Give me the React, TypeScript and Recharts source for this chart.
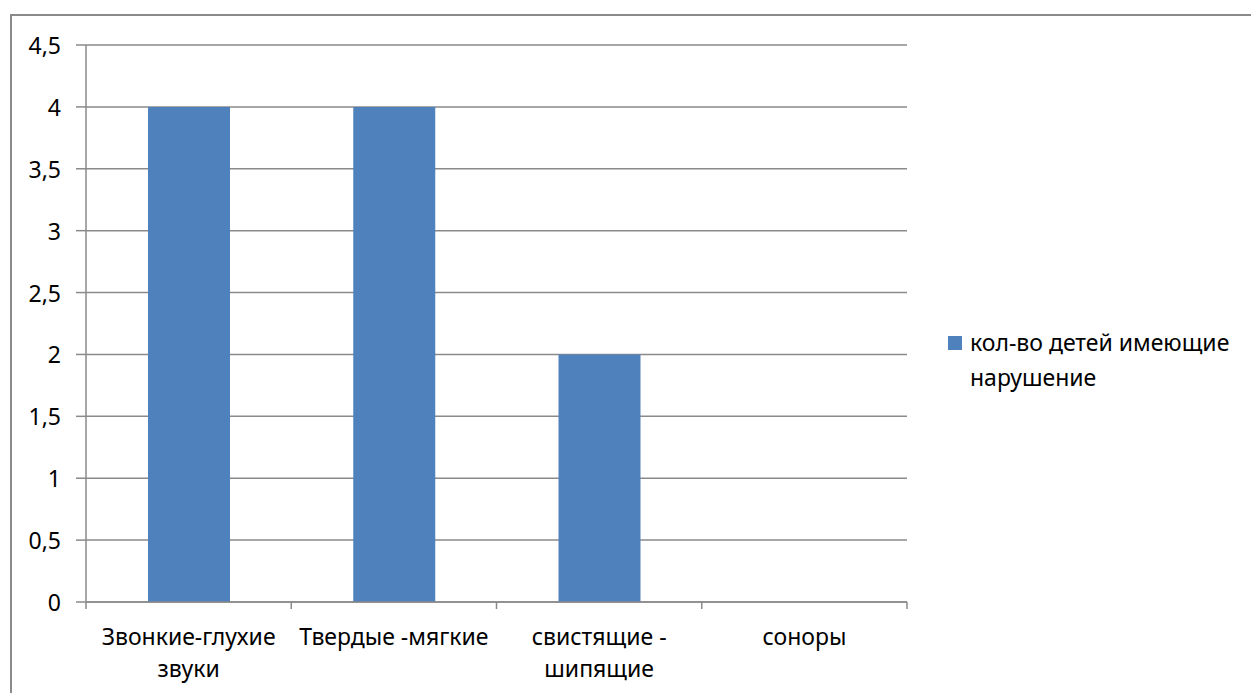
import { BarChart, Bar, XAxis, YAxis, CartesianGrid } from 'recharts';

const categories = ['Звонкие-глухие звуки', 'Твердые -мягкие', 'свистящие - шипящие', 'соноры'];
const categoryLines = [['Звонкие-глухие', 'звуки'], ['Твердые -мягкие'], ['свистящие -', 'шипящие'], ['соноры']];
const childrenCount = [4, 4, 2, 0];
const yTicks = [0, 0.5, 1, 1.5, 2, 2.5, 3, 3.5, 4, 4.5];
const seriesName = 'кол-во детей имеющие нарушение';
const legendLines = ['кол-во детей имеющие', 'нарушение'];

const data = categories.map((name, i) => ({ name, value: childrenCount[i] }));

const W = 1251;
const H = 693;
const margin = { top: 45, right: 344, bottom: 0, left: 0 };
const yAxisWidth = 86;
const xAxisHeight = 91;
const plotWidth = W - margin.left - margin.right - yAxisWidth;
const band = plotWidth / categories.length;

const FONT = '"Noto Sans", sans-serif';
const FS = 23;
const GRID = '#8a8a8a';
const BAR = '#4f81bd';

// category labels, plus the boundary tick marks between categories
function CategoryTick(props: any) {
  const { x, y, payload, index } = props;
  const lines: string[] = categoryLines[index] || [payload.value];
  const left = x - band / 2;
  const right = x + band / 2;
  return (
    <g>
      <line x1={left} x2={left} y1={y - 8} y2={y - 1} stroke={GRID} strokeWidth={1.5} />
      {index === categories.length - 1 && (
        <line x1={right} x2={right} y1={y - 8} y2={y - 1} stroke={GRID} strokeWidth={1.5} />
      )}
      {lines.map((line, i) => (
        <text key={i} x={x} y={y + 26 + i * 32} textAnchor="middle" dominantBaseline="central"
          fontFamily={FONT} fontSize={FS} fill="#000">
          {line}
        </text>
      ))}
    </g>
  );
}

function ValueTick(props: any) {
  const { x, y, payload } = props;
  return (
    <text x={x} y={y} textAnchor="end" dominantBaseline="central" fontFamily={FONT} fontSize={FS} fill="#000">
      {String(payload.value).replace('.', ',')}
    </text>
  );
}

function SeriesLegend() {
  return (
    <div style={{ position: 'absolute', left: 946, top: 325, fontFamily: FONT, fontSize: FS, color: '#000', lineHeight: '35px', paddingLeft: 24 }}>
      <span style={{ position: 'absolute', left: 2, top: 11, width: 14, height: 14, background: BAR }} />
      {legendLines.map((l) => (
        <div key={l}>{l}</div>
      ))}
    </div>
  );
}

export default function App() {
  return (
    <div style={{ position: 'fixed', left: 0, top: 0, width: W, height: H, overflow: 'hidden', background: '#fff' }}>
      <div style={{ position: 'absolute', left: 10, top: 14, width: W + 20, height: H + 20, border: `2px solid ${GRID}`, boxSizing: 'border-box' }} />
      <div style={{ position: 'absolute', left: 0, top: 0 }}>
        <BarChart width={W} height={H} data={data} margin={margin}>
          <CartesianGrid vertical={false} stroke={GRID} strokeWidth={1.5} />
          <XAxis dataKey="name" interval={0} tickLine={false} axisLine={{ stroke: GRID, strokeWidth: 1.5 }}
            tick={<CategoryTick />} height={xAxisHeight} />
          <YAxis width={yAxisWidth} domain={[0, 4.5]} ticks={yTicks} interval={0} tickSize={10} tickMargin={15}
            tickLine={{ stroke: GRID, strokeWidth: 1.5 }} axisLine={{ stroke: GRID, strokeWidth: 1.5 }}
            tick={<ValueTick />} />
          <Bar dataKey="value" name={seriesName} fill={BAR} barSize={82} isAnimationActive={false} />
        </BarChart>
      </div>
      <SeriesLegend />
    </div>
  );
}
